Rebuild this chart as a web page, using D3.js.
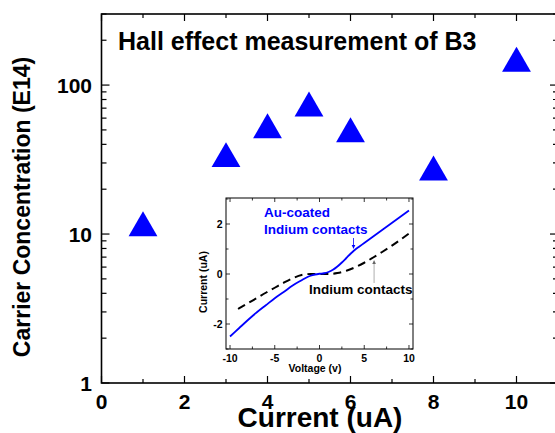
<!DOCTYPE html>
<html>
<head>
<meta charset="utf-8">
<script src="https://d3js.org/d3.v7.min.js"></script>
<style>
html,body{margin:0;padding:0;background:#fff;}
svg{display:block;}
text{font-family:"Liberation Sans",Arial,sans-serif;font-weight:bold;}
</style>
</head>
<body>
<svg id="chart" width="555" height="433"></svg>
<script>
// ---- main data ----
const currents = [1, 3, 4, 5, 6, 8, 10];
const concentrations = [11, 32, 50, 70, 47, 26, 140];
const xTicks = [0, 2, 4, 6, 8, 10];
const yTicks = [1, 10, 100];
const titleText = "Hall effect measurement of B3";
const xLabel = "Current (uA)";
const yLabel = "Carrier Concentration (E14)";

// ---- inset data ----
const auVoltage = [-10,-9,-8,-7,-6,-5,-4,-3,-2,-1.5,-1,-0.5,0,0.5,1,1.5,2,2.5,3,3.5,4,4.5,5,6,7,8,9,10];
const auCurrent = [-2.5,-2.17,-1.84,-1.53,-1.25,-0.97,-0.72,-0.46,-0.25,-0.15,-0.07,-0.02,0.01,0.03,0.08,0.17,0.3,0.46,0.64,0.82,0.98,1.11,1.24,1.5,1.76,2.02,2.28,2.54];
const inVoltage = [-9.1,-8,-7,-6,-5,-4,-3,-2,-1,0,1,2,3,4,5,6,7,8,9,10];
const inCurrent = [-1.4,-1.17,-0.96,-0.75,-0.55,-0.35,-0.17,-0.04,0,0,0,0.04,0.13,0.27,0.45,0.66,0.88,1.11,1.36,1.62];
const insetXTicks = [-10, -5, 0, 5, 10];
const insetYTicks = [-2, 0, 2];

const svg = d3.select("#chart");

// ---- main plot ----
const L = 101.5, R = 558, T = 14, B = 383;
const x = d3.scaleLinear().domain([0, 11]).range([L, R]);
const y = d3.scaleLog().domain([1, 300]).range([B, T]);

const g = svg.append("g");

const xMinor = d3.range(1, 11, 2);
const yMinor = [];
[1, 10, 100].forEach(d => { for (let k = 2; k <= 9; k++) { const v = d * k; if (v <= 300) yMinor.push(v); } });

const tickG = g.append("g").attr("stroke", "#000").attr("stroke-width", 1.2);
xTicks.forEach(v => {
  tickG.append("line").attr("x1", x(v)).attr("x2", x(v)).attr("y1", B).attr("y2", B - 7);
  tickG.append("line").attr("x1", x(v)).attr("x2", x(v)).attr("y1", T).attr("y2", T + 7);
});
xMinor.forEach(v => {
  tickG.append("line").attr("x1", x(v)).attr("x2", x(v)).attr("y1", B).attr("y2", B - 4);
  tickG.append("line").attr("x1", x(v)).attr("x2", x(v)).attr("y1", T).attr("y2", T + 4);
});
yTicks.forEach(v => {
  tickG.append("line").attr("x1", L).attr("x2", L + 8).attr("y1", y(v)).attr("y2", y(v));
  tickG.append("line").attr("x1", R).attr("x2", R - 8).attr("y1", y(v)).attr("y2", y(v));
});
yMinor.forEach(v => {
  tickG.append("line").attr("x1", L).attr("x2", L + 5).attr("y1", y(v)).attr("y2", y(v));
  tickG.append("line").attr("x1", R).attr("x2", R - 5).attr("y1", y(v)).attr("y2", y(v));
});

g.append("rect").attr("x", L).attr("y", T).attr("width", R - L).attr("height", B - T)
  .attr("fill", "none").attr("stroke", "#000").attr("stroke-width", 1.6);

g.selectAll(".xl").data(xTicks).enter().append("text")
  .attr("x", d => x(d)).attr("y", 409).attr("text-anchor", "middle")
  .attr("font-size", 21).text(d => d);
g.selectAll(".yl").data(yTicks).enter().append("text")
  .attr("x", 92).attr("y", d => y(d) + 7.5).attr("text-anchor", "end")
  .attr("font-size", 21).text(d => d);

g.append("text").attr("x", 320).attr("y", 427).attr("text-anchor", "middle")
  .attr("font-size", 28).text(xLabel);
g.append("text").attr("transform", "translate(30,207) rotate(-90)").attr("text-anchor", "middle")
  .attr("font-size", 23).text(yLabel);

g.append("text").attr("x", 118).attr("y", 50).attr("font-size", 25).text(titleText);

const tri = d3.symbol().type(d3.symbolTriangle).size(360);
g.selectAll(".pt").data(currents.map((c, i) => [c, concentrations[i]])).enter().append("path")
  .attr("d", tri).attr("fill", "#0000ff")
  .attr("transform", d => `translate(${x(d[0])},${y(d[1])})`);

// ---- inset ----
const iL = 226, iR = 413, iT = 198, iB = 349;
const ix = d3.scaleLinear().domain([-10.45, 10.45]).range([iL, iR]);
const iy = d3.scaleLinear().domain([-3, 3.04]).range([iB, iT]);
const ig = svg.append("g");
ig.append("rect").attr("x", iL).attr("y", iT).attr("width", iR - iL).attr("height", iB - iT)
  .attr("fill", "#fff");

const itG = ig.append("g").attr("stroke", "#000").attr("stroke-width", 0.8);
d3.range(-10, 10.01, 2.5).forEach(v => {
  const len = (v % 5 === 0) ? 4 : 2.5;
  itG.append("line").attr("x1", ix(v)).attr("x2", ix(v)).attr("y1", iB).attr("y2", iB - len);
  itG.append("line").attr("x1", ix(v)).attr("x2", ix(v)).attr("y1", iT).attr("y2", iT + len);
});
d3.range(-3, 3.01, 1).forEach(v => {
  const len = (v % 2 === 0) ? 4 : 2.5;
  itG.append("line").attr("x1", iL).attr("x2", iL + len).attr("y1", iy(v)).attr("y2", iy(v));
  itG.append("line").attr("x1", iR).attr("x2", iR - len).attr("y1", iy(v)).attr("y2", iy(v));
});

const line = d3.line().x(d => ix(d[0])).y(d => iy(d[1])).curve(d3.curveMonotoneX);
ig.append("path").datum(inVoltage.map((v, i) => [v, inCurrent[i]]))
  .attr("d", line).attr("fill", "none").attr("stroke", "#000").attr("stroke-width", 2)
  .attr("stroke-dasharray", "8,5");
ig.append("path").datum(auVoltage.map((v, i) => [v, auCurrent[i]]))
  .attr("d", line).attr("fill", "none").attr("stroke", "#0000ff").attr("stroke-width", 1.8);

ig.append("rect").attr("x", iL).attr("y", iT).attr("width", iR - iL).attr("height", iB - iT)
  .attr("fill", "none").attr("stroke", "#000").attr("stroke-width", 1);

ig.selectAll(".ixl").data(insetXTicks).enter().append("text")
  .attr("x", d => ix(d)).attr("y", 361.5).attr("text-anchor", "middle")
  .attr("font-size", 10.5).text(d => d);
ig.selectAll(".iyl").data(insetYTicks).enter().append("text")
  .attr("x", 222.5).attr("y", d => iy(d) + 4).attr("text-anchor", "end")
  .attr("font-size", 10.5).text(d => d);
ig.append("text").attr("x", 315).attr("y", 372).attr("text-anchor", "middle")
  .attr("font-size", 10.5).text("Voltage (v)");
ig.append("text").attr("transform", "translate(207,282) rotate(-90)").attr("text-anchor", "middle")
  .attr("font-size", 10.5).text("Current (uA)");

ig.append("text").attr("x", 264).attr("y", 217).attr("fill", "#0000ff").attr("font-size", 13.5).text("Au-coated");
ig.append("text").attr("x", 264).attr("y", 233.5).attr("fill", "#0000ff").attr("font-size", 13.5).text("Indium contacts");
ig.append("text").attr("x", 309).attr("y", 293.5).attr("fill", "#000").attr("font-size", 13.5).text("Indium contacts");

ig.append("line").attr("x1", ix(3.8)).attr("x2", ix(3.8)).attr("y1", 238).attr("y2", 247)
  .attr("stroke", "#0000ff").attr("stroke-width", 0.8);
ig.append("path").attr("d", `M${ix(3.8) - 1.8},245 L${ix(3.8) + 1.8},245 L${ix(3.8)},249 Z`).attr("fill", "#0000ff");
ig.append("line").attr("x1", ix(6.1)).attr("x2", ix(6.1)).attr("y1", 283).attr("y2", 262)
  .attr("stroke", "#999").attr("stroke-width", 0.8);
ig.append("path").attr("d", `M${ix(6.1) - 1.8},264 L${ix(6.1) + 1.8},264 L${ix(6.1)},260 Z`).attr("fill", "#666");
</script>
</body>
</html>
